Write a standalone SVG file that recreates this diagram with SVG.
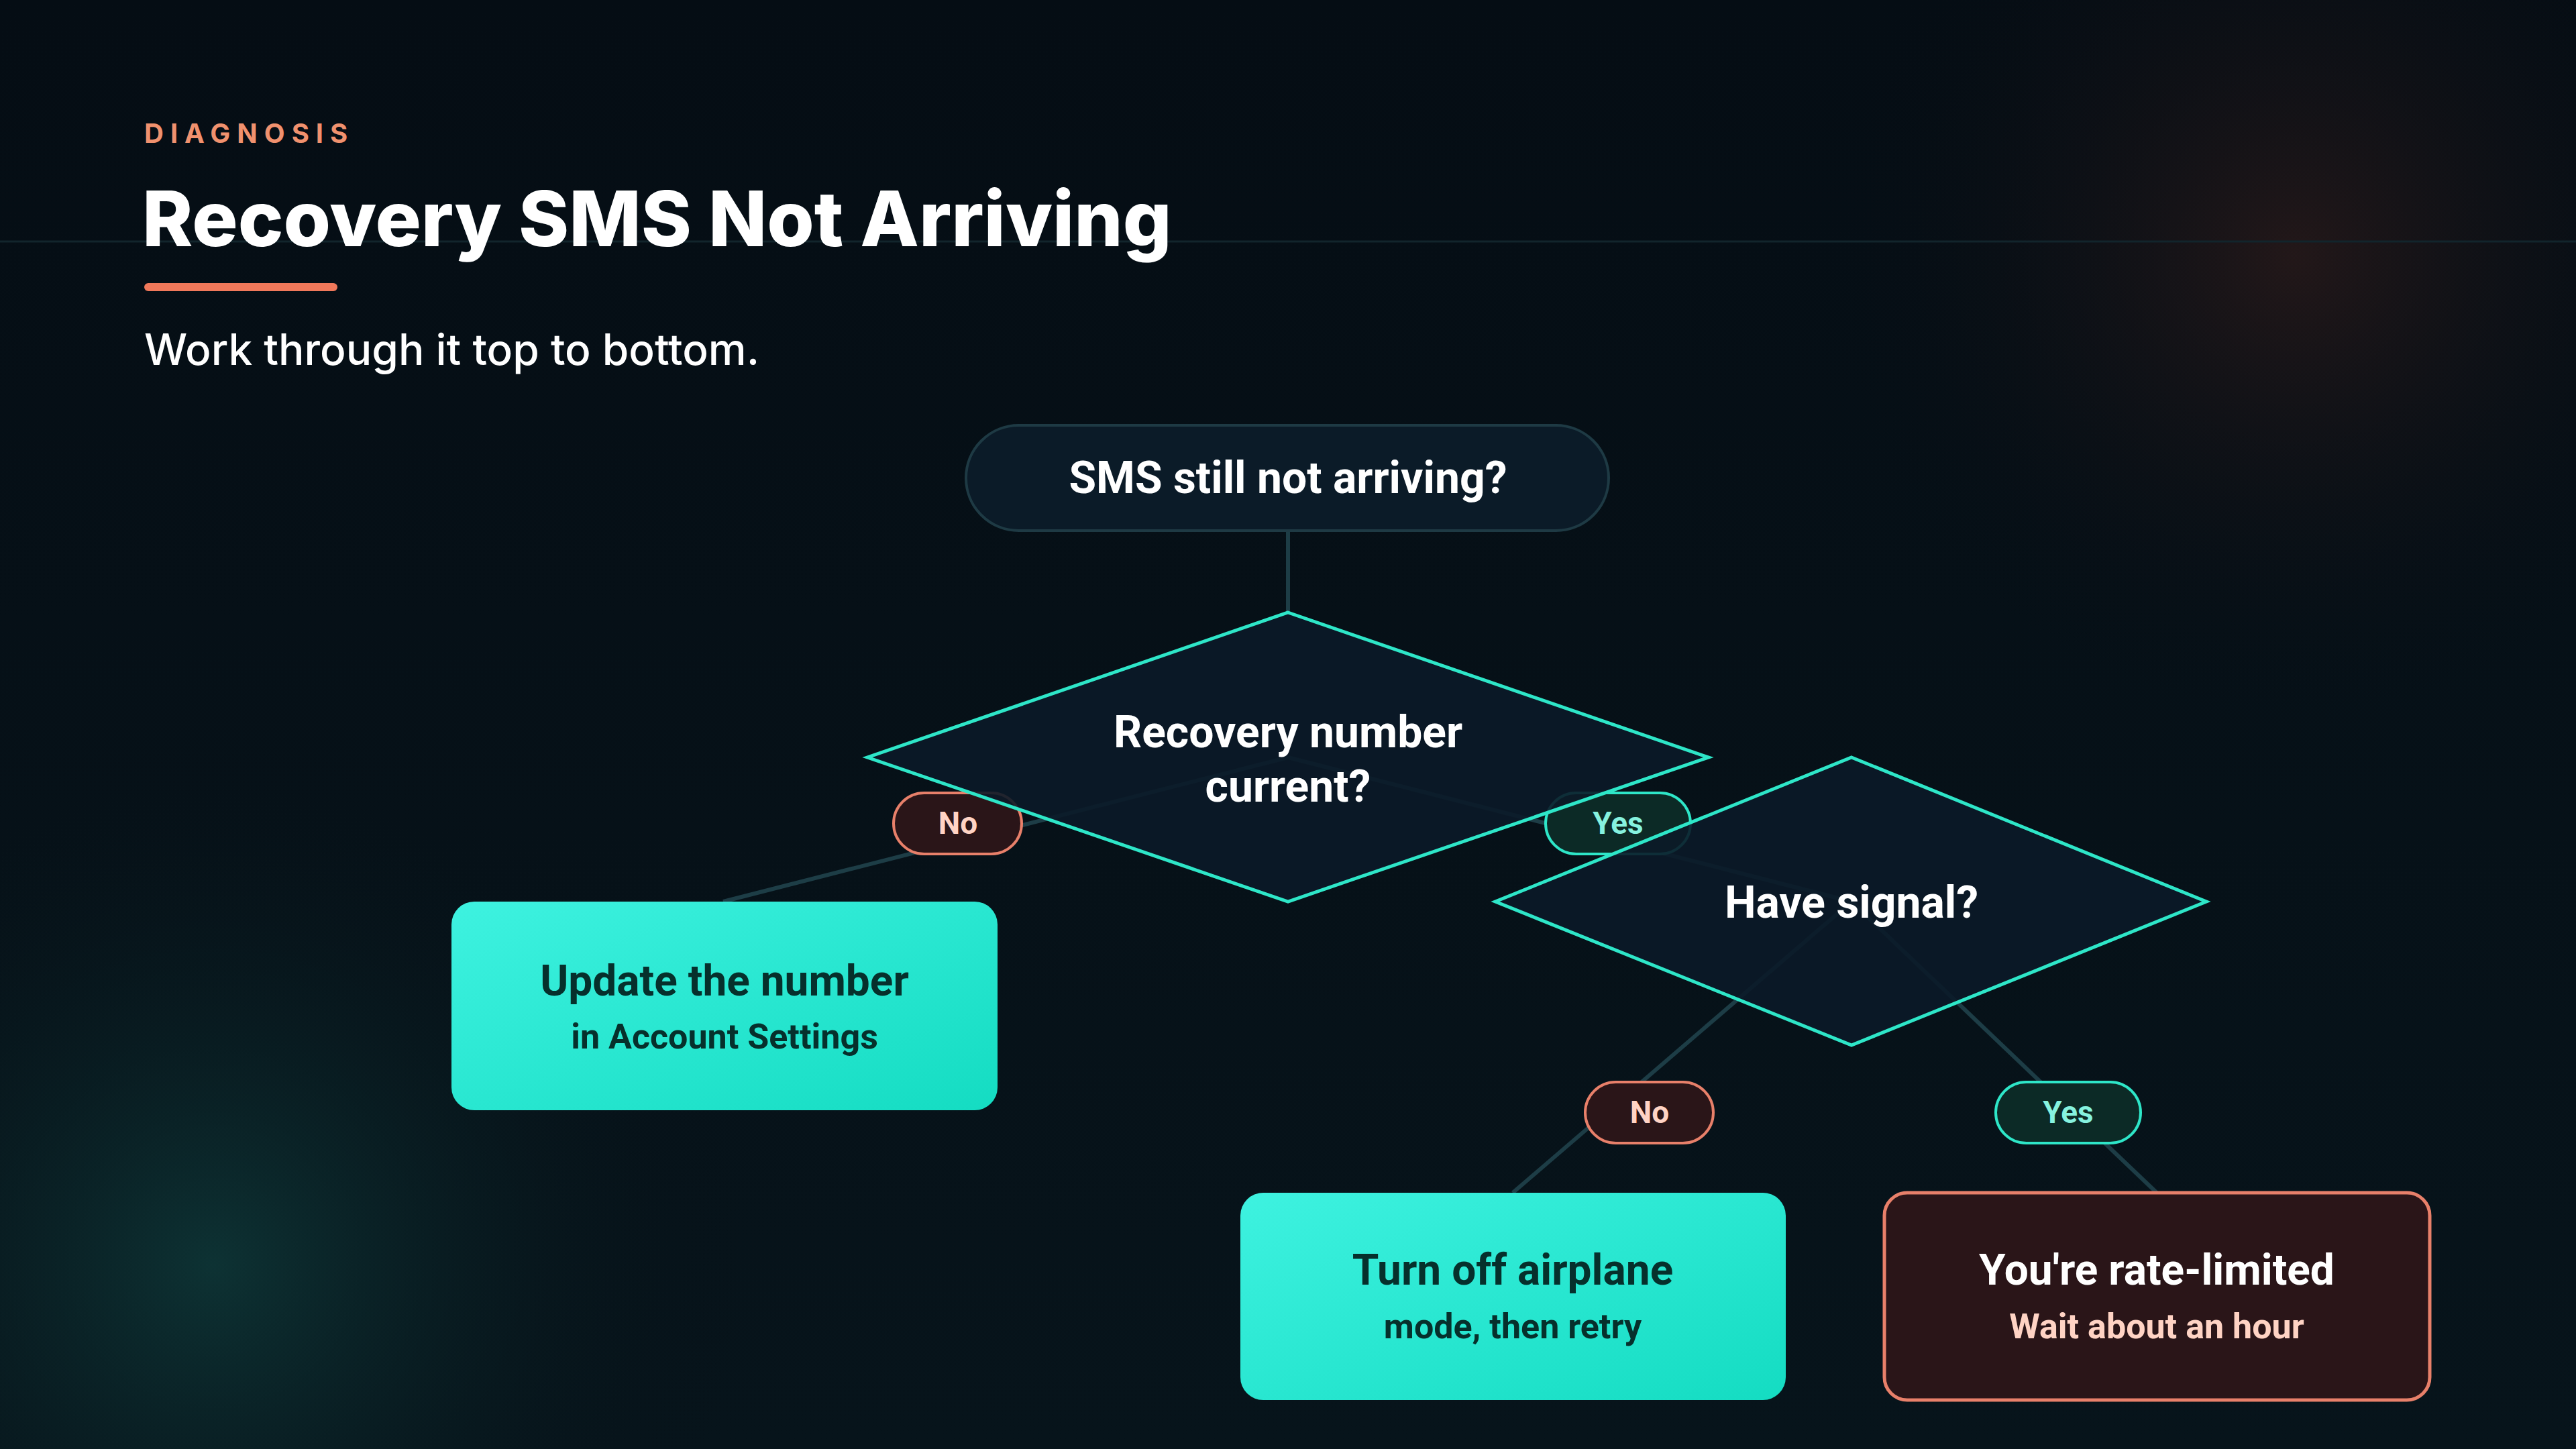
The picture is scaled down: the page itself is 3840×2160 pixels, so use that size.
<svg xmlns="http://www.w3.org/2000/svg" width="3840" height="2160" viewBox="0 0 3840 2160">
<defs>
<radialGradient id="g1" cx="318" cy="1886" r="800" gradientUnits="userSpaceOnUse"><stop offset="0" stop-color="#0f3a3a" stop-opacity="0.8"/><stop offset="1" stop-color="#060d14" stop-opacity="0"/></radialGradient>
<radialGradient id="g2" cx="3420" cy="380" r="700" gradientUnits="userSpaceOnUse"><stop offset="0" stop-color="#2a1a1a" stop-opacity="0.8"/><stop offset="1" stop-color="#060d14" stop-opacity="0"/></radialGradient>
<linearGradient id="box" x1="0" y1="0" x2="1" y2="1"><stop offset="0" stop-color="#3ef2e0"/><stop offset="1" stop-color="#14dcc2"/></linearGradient>
<linearGradient id="bg" x1="0" y1="0" x2="0" y2="1"><stop offset="0" stop-color="#050d14"/><stop offset="1" stop-color="#07141b"/></linearGradient>
</defs>
<style>
.t{font-family:Roboto,"Liberation Sans",sans-serif;font-weight:700;text-anchor:middle}
.dia{fill:#0b1a28;fill-opacity:0.9;stroke:#2ee6c8;stroke-width:5}
.con{stroke:#1d3d46;stroke-width:6;fill:none}
.no rect{fill:#2a1518;stroke:#e8806a;stroke-width:4}
.no text{fill:#ffd3c4}
.yes rect{fill:#0c2a26;stroke:#2ee6c8;stroke-width:4}
.yes text{fill:#86f2df}
.lbl{font-size:46px}
</style>
<rect width="3840" height="2160" fill="url(#bg)"/>
<rect width="3840" height="2160" fill="url(#g1)"/>
<rect width="3840" height="2160" fill="url(#g2)"/>
<line x1="0" y1="360" x2="3840" y2="360" stroke="#12252c" stroke-width="3"/>
<text x="215" y="213" font-family="Inter,'Liberation Sans',sans-serif" font-weight="700" font-size="40" letter-spacing="10" fill="#f0916e">DIAGNOSIS</text>
<text x="212" y="367" font-family="Inter,'Liberation Sans',sans-serif" font-weight="800" font-size="114" fill="#ffffff">Recovery SMS Not Arriving</text>
<rect x="215" y="422" width="288" height="12" rx="6" fill="#f0785a"/>
<text x="215" y="544" font-family="Inter,'Liberation Sans',sans-serif" font-weight="500" font-size="64" fill="#ffffff">Work through it top to bottom.</text>
<g id="connectors">
<line class="con" x1="1920" y1="791" x2="1920" y2="913"/>
<line class="con" x1="1920" y1="1129" x2="1078" y2="1344"/>
<line class="con" x1="1920" y1="1129" x2="2760" y2="1344"/>
<line class="con" x1="2760" y1="1344" x2="2255" y2="1778"/>
<line class="con" x1="2760" y1="1344" x2="3215" y2="1778"/>
<g class="no"><rect x="1332" y="1182" width="191" height="91" rx="45.5"/><text class="t lbl" x="1428" y="1243">No</text></g>
<g class="yes"><rect x="2304" y="1182" width="216" height="91" rx="45.5"/><text class="t lbl" x="2412" y="1243">Yes</text></g>
<g class="no"><rect x="2363" y="1613" width="191" height="91" rx="45.5"/><text class="t lbl" x="2459" y="1674">No</text></g>
<g class="yes"><rect x="2975" y="1613" width="216" height="91" rx="45.5"/><text class="t lbl" x="3083" y="1674">Yes</text></g>
</g>
<g id="start"><rect x="1440" y="634" width="958" height="157" rx="78.5" fill="#0b1b28" stroke="#1e3a44" stroke-width="4"/><text class="t" x="1920" y="735" font-size="66" fill="#ffffff">SMS still not arriving?</text></g>
<g id="d1"><polygon class="dia" points="1920,913 2547,1129 1920,1344 1293,1129"/><text class="t" x="1920" y="1114" font-size="66" fill="#ffffff">Recovery number</text><text class="t" x="1920" y="1195" font-size="66" fill="#ffffff">current?</text></g>
<g id="d2"><polygon class="dia" points="2760,1129 3289,1344 2760,1558 2229,1344"/><text class="t" x="2760" y="1368" font-size="66" fill="#ffffff">Have signal?</text></g>
<g id="b1"><rect x="673" y="1344" width="814" height="311" rx="34" fill="url(#box)"/><text class="t" x="1080" y="1484" font-size="64" fill="#06302c">Update the number</text><text class="t" x="1080" y="1563" font-size="52" font-weight="500" fill="#06302c">in Account Settings</text></g>
<g id="b2"><rect x="1849" y="1778" width="813" height="309" rx="34" fill="url(#box)"/><text class="t" x="2255" y="1915" font-size="64" fill="#06302c">Turn off airplane</text><text class="t" x="2255" y="1995" font-size="52" font-weight="500" fill="#06302c">mode, then retry</text></g>
<g id="b3"><rect x="2809" y="1778" width="813" height="309" rx="34" fill="#2a1518" stroke="#e8806a" stroke-width="5"/><text class="t" x="3215" y="1915" font-size="64" fill="#ffffff">You're rate-limited</text><text class="t" x="3215" y="1995" font-size="52" font-weight="500" fill="#ffd3c4">Wait about an hour</text></g>
</svg>
